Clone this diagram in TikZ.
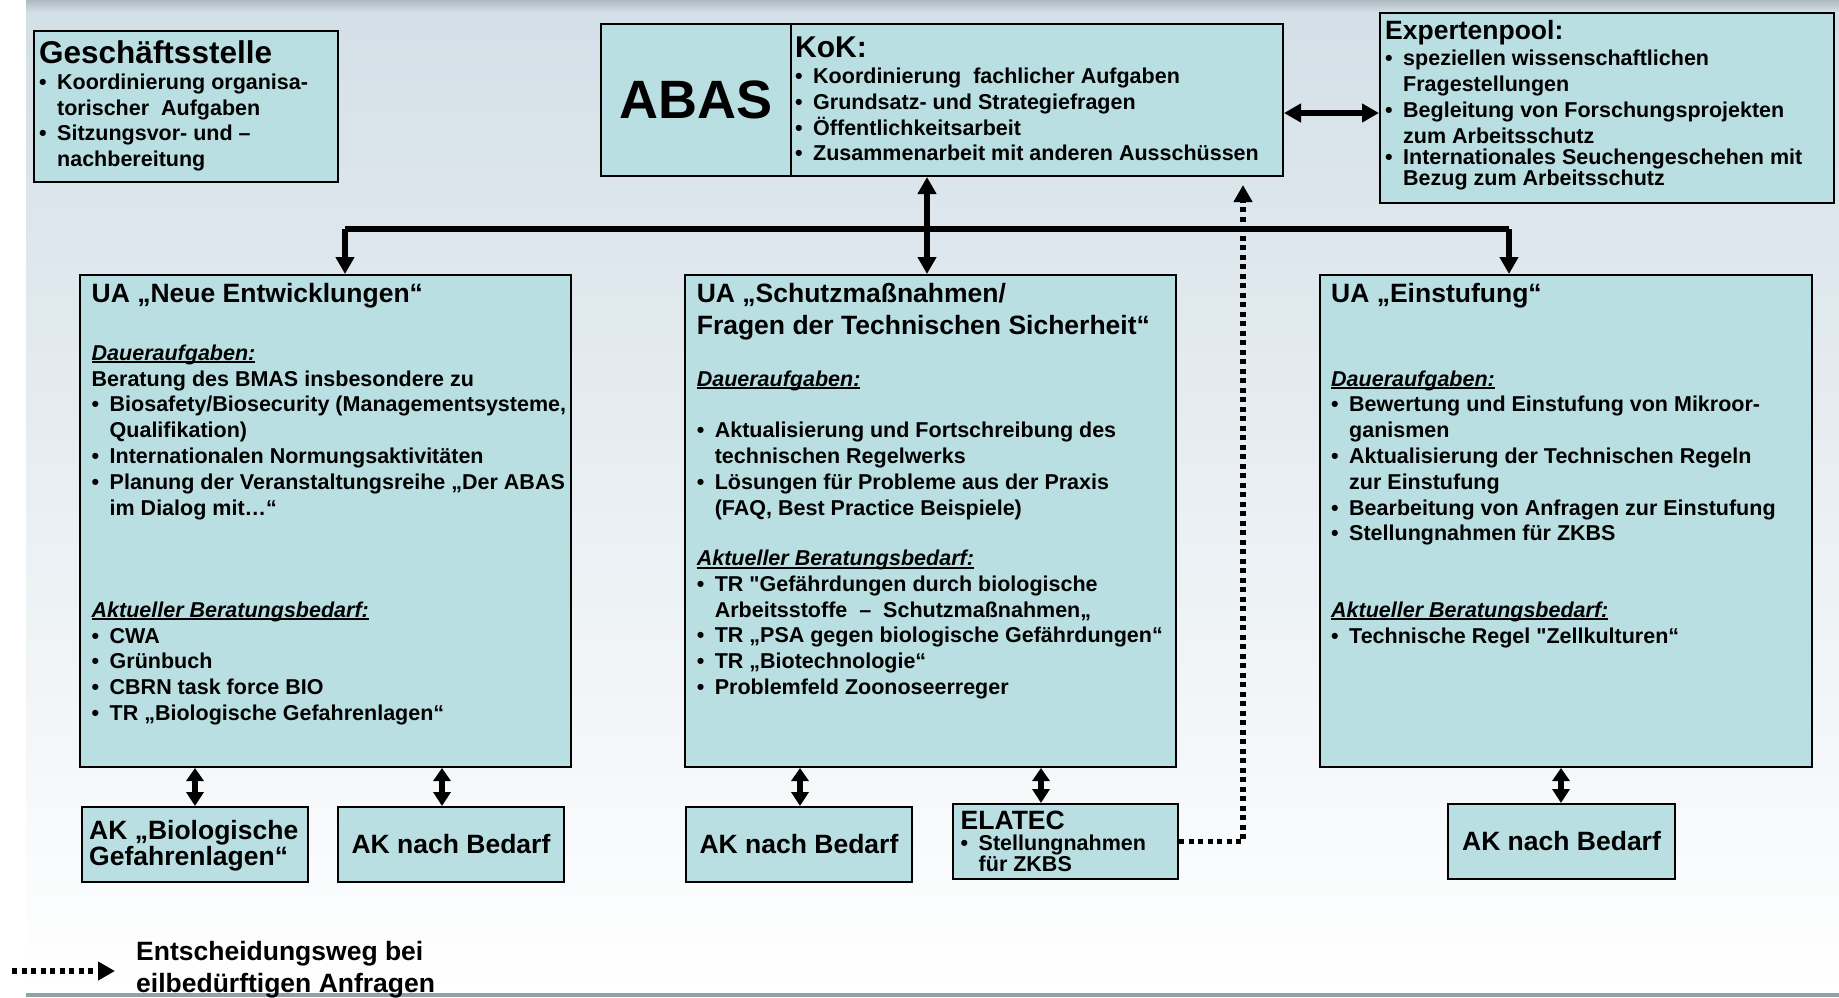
\documentclass[tikz,border=0pt]{standalone}
\usepackage{fontspec}
\setmainfont{Liberation Sans}
\usetikzlibrary{arrows.meta}
\definecolor{boxc}{HTML}{B9DFE2}
\definecolor{bgtop}{HTML}{D3DFE7}
\definecolor{bgband}{HTML}{AEBAC2}
\definecolor{lineg}{HTML}{8FA2AC}
\newcommand{\bodyf}{\fontsize{21.5}{25.8}\selectfont\bfseries}
\newcommand{\titf}{\fontsize{26.5}{31.7}\selectfont\bfseries}
\newcommand{\bstrut}{\rule{0pt}{20pt}}
\newcommand{\tstrut}{\rule{0pt}{25pt}}
\newcommand{\bu}{\makebox[18pt][l]{•}}
\newcommand{\ind}{\hspace*{18pt}}
\newcommand{\hul}[1]{\setbox0\hbox{#1}\rlap{\rule[-3pt]{\wd0}{1.8pt}}\box0}
\newcommand{\sub}[1]{\hul{\itshape #1}}
\newcommand{\sq}{{\addfontfeatures{Ligatures=TeXOff}"}}
\begin{document}
\begin{tikzpicture}[x=1pt,y=-1pt,
  box/.style={draw=black, line width=2pt, fill=boxc, inner sep=0pt, anchor=north west},
  txt/.style={anchor=north west, inner sep=0pt, align=left, font=\bodyf},
  ttl/.style={anchor=north west, inner sep=0pt, align=left, font=\titf},
  bus/.style={line width=6pt},
  arr/.style={line width=6pt, -{Triangle[length=17pt,width=18pt]}},
  darr/.style={line width=5.5pt, {Triangle[length=13pt,width=17pt]}-{Triangle[length=14pt,width=17pt]}},
  earr/.style={line width=6pt, {Triangle[length=17pt,width=18pt]}-{Triangle[length=17pt,width=18pt]}},
  dotl/.style={line width=5.5pt, dash pattern=on 5pt off 4.5pt, -{Triangle[length=17pt,width=18pt]}}
]
\useasboundingbox (0,0) rectangle (1839,997);
% background
\fill[white] (0,0) rectangle (1839,997);
\shade[top color=bgtop, bottom color=white] (26,0) rectangle (1839,993);
\shade[top color=bgband, bottom color=bgtop] (26,0) rectangle (1839,12);
\fill[lineg] (26,993) rectangle (1839,997);

% boxes
\node[box, minimum width=304pt, minimum height=151pt] (gs) at (33,30) {};
\node[box, minimum width=190pt, minimum height=152pt] (abas) at (600,23) {};
\node[box, minimum width=492pt, minimum height=152pt] (kok) at (790,23) {};
\node[box, minimum width=454pt, minimum height=190pt] (exp) at (1379,12) {};
\node[box, minimum width=491pt, minimum height=492pt] (ua1) at (79,274) {};
\node[box, minimum width=491pt, minimum height=492pt] (ua2) at (684,274) {};
\node[box, minimum width=492pt, minimum height=492pt] (ua3) at (1319,274) {};
\node[box, minimum width=226pt, minimum height=75pt] (akbio) at (81,806) {};
\node[box, minimum width=226pt, minimum height=75pt] (ak1) at (337,806) {};
\node[box, minimum width=226pt, minimum height=75pt] (ak2) at (685,806) {};
\node[box, minimum width=225pt, minimum height=75pt] (elatec) at (952,803) {};
\node[box, minimum width=227pt, minimum height=75pt] (ak3) at (1447,803) {};

% Geschaeftsstelle
\node[anchor=north west, inner sep=0pt, font=\fontsize{31.5}{36}\selectfont\bfseries] (gst) at (39,33) {\rule{0pt}{30pt}Geschäftsstelle};
\node[txt] (gsb) at (39,69) {\bstrut\bu Koordinierung organisa-\\ \ind torischer~ Aufgaben\\ \bu Sitzungsvor- und –\\ \ind nachbereitung};

% ABAS / KoK
\node[inner sep=0pt, font=\fontsize{54}{60}\selectfont\bfseries] (abast) at (abas.center) {ABAS};
\node[anchor=north west, inner sep=0pt, font=\fontsize{30}{34}\selectfont\bfseries] (kokt) at (795,29) {\rule{0pt}{28pt}KoK:};
\node[txt] (kokb) at (795,63.2) {\bstrut\bu Koordinierung~ fachlicher Aufgaben\\ \bu Grundsatz- und Strategiefragen\\ \bu Öffentlichkeitsarbeit\\ \bu Zusammenarbeit mit anderen Ausschüssen};

% Expertenpool
\node[ttl] (expt) at (1385,14) {\tstrut Expertenpool:};
\node[txt] (expb) at (1385,45.6) {\bstrut\bu speziellen wissenschaftlichen\\ \ind Fragestellungen\\ \bu Begleitung von Forschungsprojekten\\ \ind zum Arbeitsschutz\\[-4.8pt] \bu Internationales Seuchengeschehen mit\\[-4.8pt] \ind Bezug zum Arbeitsschutz};

% UA 1
\node[ttl] (ua1t) at (91.5,277.2) {\tstrut UA „Neue Entwicklungen“};
\node[txt] (ua1d) at (91.5,340) {\bstrut\sub{Daueraufgaben:}\\ Beratung des BMAS insbesondere zu\\ \bu Biosafety/Biosecurity (Managementsysteme,\\ \ind Qualifikation)\\ \bu Internationalen Normungsaktivitäten\\ \bu Planung der Veranstaltungsreihe „Der ABAS\\ \ind im Dialog mit…“};
\node[txt] (ua1a) at (91.5,597) {\bstrut\sub{Aktueller Beratungsbedarf:}\\ \bu CWA\\ \bu Grünbuch\\ \bu CBRN task force BIO\\ \bu TR „Biologische Gefahrenlagen“};

% UA 2
\node[ttl] (ua2t) at (696.6,277.2) {\tstrut UA „Schutzmaßnahmen/\\ Fragen der Technischen Sicherheit“};
\node[txt] (ua2d) at (696.6,365.8) {\bstrut\sub{Daueraufgaben:}};
\node[txt] (ua2b) at (696.6,417.4) {\bstrut\bu Aktualisierung und Fortschreibung des\\ \ind technischen Regelwerks\\ \bu Lösungen für Probleme aus der Praxis\\ \ind (FAQ, Best Practice Beispiele)};
\node[txt] (ua2a) at (696.6,545.3) {\bstrut\sub{Aktueller Beratungsbedarf:}\\ \bu TR \sq Gefährdungen durch biologische\\ \ind Arbeitsstoffe~ –~ Schutzmaßnahmen„\\ \bu TR „PSA gegen biologische Gefährdungen“\\ \bu TR „Biotechnologie“\\ \bu Problemfeld Zoonoseerreger};

% UA 3
\node[ttl] (ua3t) at (1331,277.2) {\tstrut UA „Einstufung“};
\node[txt] (ua3d) at (1331,365.8) {\bstrut\sub{Daueraufgaben:}\\ \bu Bewertung und Einstufung von Mikroor-\\ \ind ganismen\\ \bu Aktualisierung der Technischen Regeln\\ \ind zur Einstufung\\ \bu Bearbeitung von Anfragen zur Einstufung\\ \bu Stellungnahmen für ZKBS};
\node[txt] (ua3a) at (1331,597) {\bstrut\sub{Aktueller Beratungsbedarf:}\\ \bu Technische Regel \sq Zellkulturen“};

% AK boxes
\node[anchor=north west, inner sep=0pt, align=left, font=\fontsize{26.5}{26}\selectfont\bfseries] (akbiot) at (89,814) {\tstrut AK „Biologische\\ Gefahrenlagen“};
\node[inner sep=0pt, font=\titf] (ak1t) at (ak1.center) {AK nach Bedarf};
\node[inner sep=0pt, font=\titf] (ak2t) at (ak2.center) {AK nach Bedarf};
\node[inner sep=0pt, font=\titf] (ak3t) at (ak3.center) {AK nach Bedarf};
\node[ttl] (elt) at (960.5,804) {\tstrut ELATEC};
\node[anchor=north west, inner sep=0pt, align=left, font=\fontsize{21.5}{21}\selectfont\bfseries] (elb) at (960.5,830) {\bstrut\bu Stellungnahmen\\ \ind für ZKBS};

% legend
\node[anchor=north west, inner sep=0pt, align=left, font=\fontsize{26.5}{32}\selectfont\bfseries] (legt) at (136,935) {\tstrut Entscheidungsweg bei\\ eilbedürftigen Anfragen};
\coordinate (lg1) at (12,971);
\coordinate (lg2) at (115,971);

% connectors
\coordinate (busL) at (345,229);
\coordinate (busM) at (927,229);
\coordinate (busR) at (1509,229);
\draw[bus] (busL) -- (busR);
\draw[arr] (busL) -- (busL |- ua1.north);
\draw[arr] (busR) -- (busR |- ua3.north);
\draw[earr] (kok.south -| busM) -- (ua2.north -| busM);
\coordinate (ey) at (0,113);
\draw[earr] (kok.east |- ey) -- (exp.west |- ey);

\coordinate (a1) at (195,0);
\coordinate (a2) at (442,0);
\coordinate (a3) at (800,0);
\coordinate (a4) at (1041,0);
\coordinate (a5) at (1561,0);
\draw[darr] (ua1.south -| a1) -- (akbio.north -| a1);
\draw[darr] (ua1.south -| a2) -- (ak1.north -| a2);
\draw[darr] (ua2.south -| a3) -- (ak2.north -| a3);
\draw[darr] (ua2.south -| a4) -- (elatec.north -| a4);
\draw[darr] (ua3.south -| a5) -- (ak3.north -| a5);

\coordinate (dc) at (1243,185);
\draw[dotl] (elatec.east) -- (elatec.east -| dc) -- (dc);
\draw[dotl] (lg1) -- (lg2);
\end{tikzpicture}
\end{document}
